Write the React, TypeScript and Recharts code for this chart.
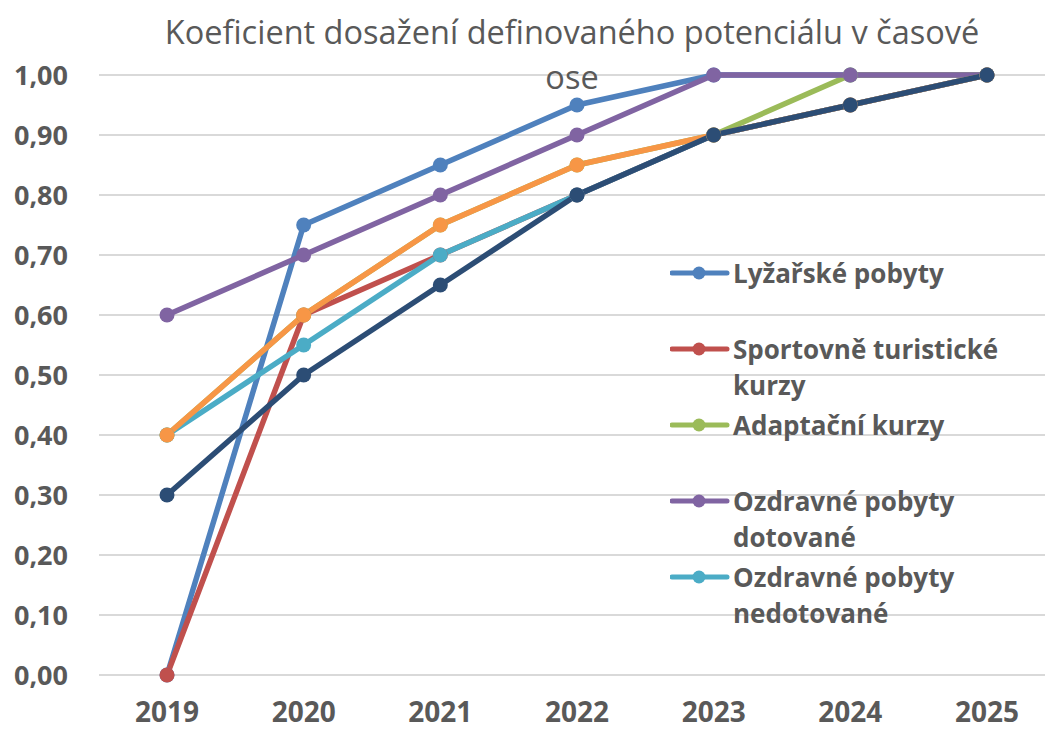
import { CartesianGrid, Line, LineChart, XAxis, YAxis } from "recharts";

const YEARS = ["2019", "2020", "2021", "2022", "2023", "2024", "2025"];
const Y_TICKS = [0, 0.1, 0.2, 0.3, 0.4, 0.5, 0.6, 0.7, 0.8, 0.9, 1.0];

const LYZARSKE = [0.0, 0.75, 0.85, 0.95, 1.0, 1.0, 1.0];
const SPORTOVNE = [0.0, 0.6, 0.7, 0.8, 0.9, 0.95, 1.0];
const ADAPTACNI = [0.4, 0.6, 0.75, 0.85, 0.9, 1.0, 1.0];
const OZDRAVNE_DOT = [0.6, 0.7, 0.8, 0.9, 1.0, 1.0, 1.0];
const OZDRAVNE_NEDOT = [0.4, 0.55, 0.7, 0.8, 0.9, 0.95, 1.0];
const RADA6 = [0.4, 0.6, 0.75, 0.85, 0.9, 0.95, 1.0];
const RADA7 = [0.3, 0.5, 0.65, 0.8, 0.9, 0.95, 1.0];

const SERIES = [
  { key: "lyz", name: "Lyžařské pobyty", color: "#4F81BD", values: LYZARSKE, legend: true },
  { key: "spo", name: "Sportovně turistické kurzy", color: "#C0504D", values: SPORTOVNE, legend: true },
  { key: "ada", name: "Adaptační kurzy", color: "#9BBB59", values: ADAPTACNI, legend: true },
  { key: "ozd", name: "Ozdravné pobyty dotované", color: "#8064A2", values: OZDRAVNE_DOT, legend: true },
  { key: "ozn", name: "Ozdravné pobyty nedotované", color: "#4BACC6", values: OZDRAVNE_NEDOT, legend: true },
  { key: "r6", name: "Řada 6", color: "#F79646", values: RADA6, legend: false },
  { key: "r7", name: "Řada 7", color: "#2C4D75", values: RADA7, legend: false },
];

const data = YEARS.map((year, i) => {
  const row: Record<string, string | number> = { year };
  SERIES.forEach((s) => (row[s.key] = s.values[i]));
  return row;
});

const FONT = "'Open Sans', sans-serif";
const TEXT = "#595959";

const fmt = (v: number) => v.toFixed(2).replace(".", ",");

export default function App() {
  return (
    <div style={{ position: "relative", width: 1045, height: 729, overflow: "hidden", background: "#fff", fontFamily: FONT }}>
      <style>{`body{margin:0}`}</style>
      <LineChart width={1056} height={729} data={data} margin={{ top: 75, right: 0, bottom: 0, left: 0 }}>
        <CartesianGrid vertical={false} stroke="#D9D9D9" strokeWidth={2} />
        <XAxis
          dataKey="year"
          height={54}
          padding={{ left: 68, right: 69 }}
          axisLine={false}
          tickLine={false}
          tickSize={0}
          tickMargin={27}
          tick={{ fontSize: 28, fontWeight: 700, fill: TEXT, fontFamily: FONT }}
        />
        <YAxis
          width={99}
          domain={[0, 1]}
          ticks={Y_TICKS}
          tickFormatter={fmt}
          axisLine={false}
          tickLine={false}
          tickSize={0}
          tickMargin={31}
          tick={{ fontSize: 27, fontWeight: 700, fill: TEXT, fontFamily: FONT }}
        />
        {SERIES.map((s) => (
          <Line
            key={s.key}
            dataKey={s.key}
            name={s.name}
            stroke={s.color}
            strokeWidth={5.5}
            strokeLinejoin="round"
            dot={{ r: 7.5, fill: s.color, stroke: "none" }}
            activeDot={false}
            isAnimationActive={false}
          />
        ))}
      </LineChart>

      <div
        style={{
          position: "absolute",
          left: 0,
          top: 9,
          width: 1144,
          textAlign: "center",
          fontSize: 32.5,
          lineHeight: "45px",
          color: TEXT,
        }}
      >
        Koeficient dosažení definovaného potenciálu v časové
        <br />
        ose
      </div>

      <div style={{ position: "absolute", left: 670, top: 255 }}>
        {SERIES.filter((s) => s.legend).map((s, i) => (
          <div key={s.key} style={{ position: "absolute", top: i * 76, left: 0, display: "flex", width: 370 }}>
            <svg width={60} height={36} style={{ flexShrink: 0 }}>
              <line x1={2} y1={18} x2={57} y2={18} stroke={s.color} strokeWidth={5} strokeLinecap="round" />
              <circle cx={29} cy={18} r={6.5} fill={s.color} />
            </svg>
            <div style={{ marginLeft: 3, width: 300, fontSize: 26, fontWeight: 700, lineHeight: "36px", color: TEXT }}>
              {s.name}
            </div>
          </div>
        ))}
      </div>
    </div>
  );
}
